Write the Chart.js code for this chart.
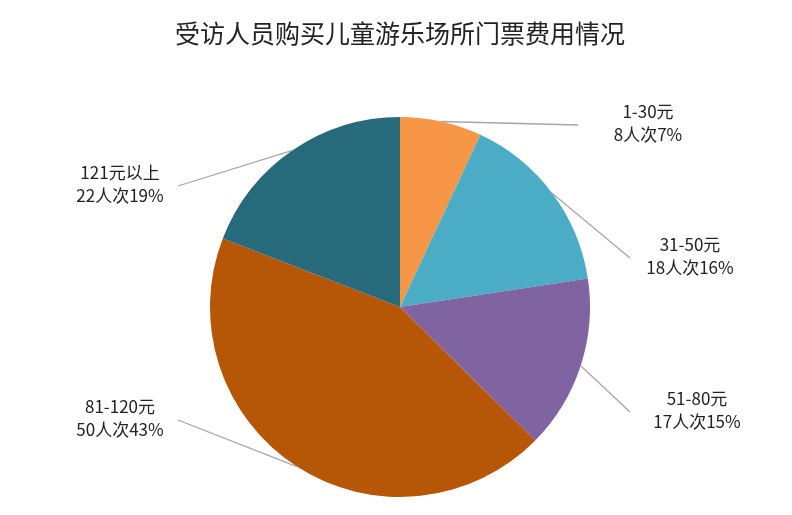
<!DOCTYPE html><html><head><meta charset="utf-8">
<script src="https://cdn.jsdelivr.net/npm/chart.js@4/dist/chart.umd.min.js"></script>
<style>html,body{margin:0;padding:0;background:#fff}</style></head><body>
<canvas id="c" width="792" height="515"></canvas>
<script>
const categories=["1-30元","31-50元","51-80元","81-120元","121元以上"];
const counts=[8,18,17,50,22];
const percents=["7%","16%","15%","43%","19%"];
const colors=["#F79646","#4BACC6","#8064A2","#B65708","#276A7C"];
const labelEnds=[[578,125],[630,258],[630,412],[178,420],[178,186]];
const labelCenters=[[648,123],[690,256],[697,410],[120,418],[120,184]];
const FONT='"Noto Sans CJK SC", sans-serif';
const plug={id:'lbl',afterDraw(ch){
 const c=ch.ctx;const meta=ch.getDatasetMeta(0);
 c.save();
 c.font='25px '+FONT;c.fillStyle='#222';c.textAlign='center';c.textBaseline='middle';
 c.fillText('受访人员购买儿童游乐场所门票费用情况',400,33);
 c.font='17px '+FONT;
 meta.data.forEach((a,i)=>{
  const m=(a.startAngle+a.endAngle)/2;
  const x=a.x+Math.cos(m)*a.outerRadius, y=a.y+Math.sin(m)*a.outerRadius;
  c.strokeStyle='#a6a6a6';c.lineWidth=1.3;c.beginPath();c.moveTo(x,y);c.lineTo(labelEnds[i][0],labelEnds[i][1]);c.stroke();
  c.fillStyle='#222';
  c.fillText(categories[i],labelCenters[i][0],labelCenters[i][1]-11);
  c.fillText(counts[i]+'人次'+percents[i],labelCenters[i][0],labelCenters[i][1]+12);
 });
 c.restore();}};
new Chart(document.getElementById('c'),{type:'pie',
 data:{labels:categories,datasets:[{data:counts,backgroundColor:colors,borderWidth:0}]},
 options:{responsive:false,animation:false,layout:{padding:{top:117,bottom:18,left:8}},
  plugins:{legend:{display:false},tooltip:{enabled:false}}},plugins:[plug]});
</script></body></html>
